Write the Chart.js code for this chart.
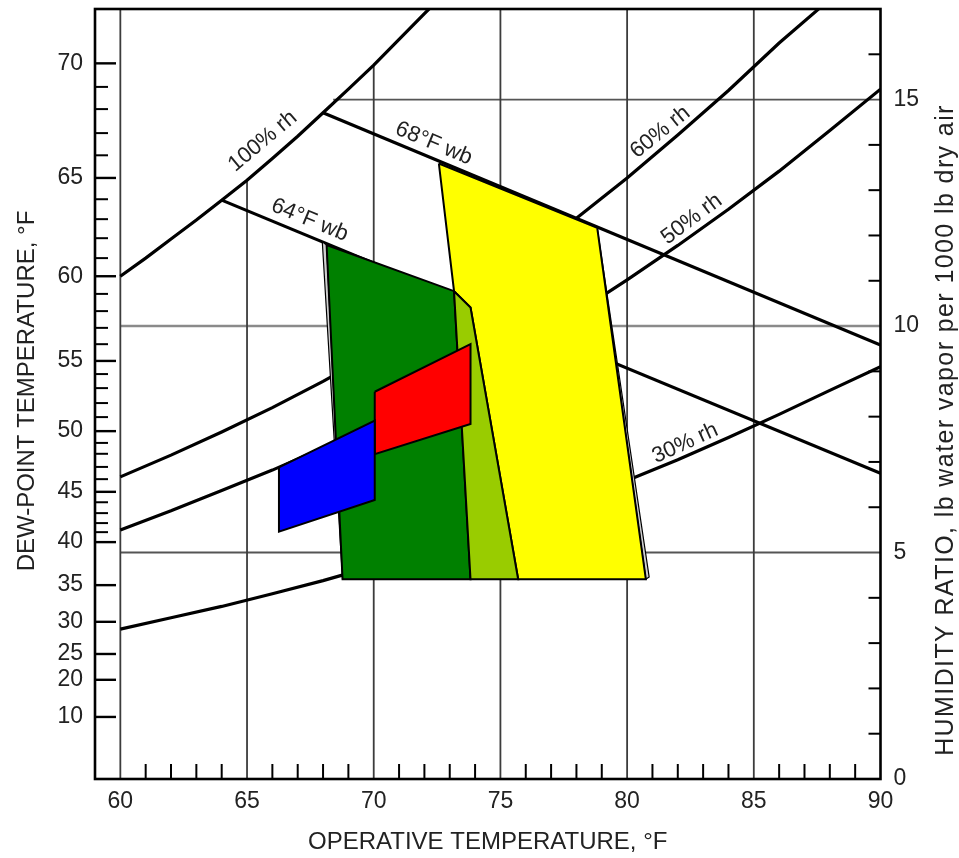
<!DOCTYPE html>
<html><head><meta charset="utf-8">
<script src="https://cdn.jsdelivr.net/npm/chart.js@4.4.0/dist/chart.umd.min.js"></script>
<style>
html,body{margin:0;padding:0;background:#fff;}
#wrap{position:relative;width:959px;height:858px;}
</style></head><body>
<div id="wrap"><canvas id="c"></canvas></div>
<script>
// ---------------- data ----------------
const xTickValues = [60, 65, 70, 75, 80, 85, 90];
const xMinorTicks = [61,62,63,64,66,67,68,69,71,72,73,74,76,77,78,79,81,82,83,84,86,87,88,89];
const humidityTicks = [0, 5, 10, 15];
const humidityMinorTicks = [1,2,3,4,6,7,8,9,11,12,13,14,16];
const dewPointLabels = [70, 65, 60, 55, 50, 45, 40, 35, 30, 25, 20, 10];
const dewPointW = [15.80, 13.27, 11.10, 9.23, 7.68, 6.34, 5.23, 4.28, 3.47, 2.76, 2.19, 1.37];
const dewPointMinorW = [15.28,14.79,14.26,13.77,12.80,12.36,11.94,11.50,10.71,10.33,9.96,9.60,
                        8.94,8.63,8.30,7.99,7.42,7.18,6.89,6.62,6.11,5.87,5.65,5.45];

// relative humidity curves (operative temperature, humidity ratio)
const rh100T = [60, 61, 62, 63, 64, 65, 66, 67, 68, 69, 70, 71, 72, 72.2];
const rh100W = [11.10, 11.50, 11.92, 12.34, 12.78, 13.22, 13.70, 14.19, 14.71, 15.23, 15.76, 16.33, 16.90, 17.01];
const rh60T = [60, 62, 64, 66, 68, 70, 72, 74, 76, 78, 80, 82, 84, 86, 87.6];
const rh60W = [6.67, 7.15, 7.66, 8.20, 8.78, 9.40, 10.07, 10.78, 11.55, 12.38, 13.27, 14.22, 15.20, 16.25, 17.02];
const rh50T = [60, 62, 64, 66, 68, 70, 72, 74, 76, 78, 80, 82, 84, 86, 88, 90];
const rh50W = [5.50, 5.92, 6.37, 6.82, 7.31, 7.84, 8.40, 8.99, 9.62, 10.29, 11.02, 11.78, 12.58, 13.42, 14.32, 15.23];
const rh30T = [60, 62, 64, 66, 68, 70, 72, 74, 76, 78, 80, 82, 84, 86, 88, 90];
const rh30W = [3.31, 3.56, 3.81, 4.09, 4.38, 4.70, 5.03, 5.38, 5.76, 6.16, 6.59, 7.05, 7.54, 8.05, 8.58, 9.10];
// wet-bulb lines
const wb64T = [64, 90];
const wb64W = [12.78, 6.75];
const wb68T = [68, 90];
const wb68W = [14.71, 9.58];

// grid lines (clipped at the saturation curve)
const gridVT = [60, 65, 70, 75, 80, 85];
const gridVTop = [17, 13.22, 15.76, 17, 17, 17];
const gridHW = [5, 10, 15];
const gridHStart = [60, 60, 68.4];

// comfort zones (polygons)
const greenT = [68.14, 73.17, 73.82, 68.77];
const greenW = [11.79, 10.77, 4.41, 4.41];
const lightGreenT = [73.17, 73.82, 75.70, 73.82];
const lightGreenW = [10.77, 10.41, 4.41, 4.41];
const yellowT = [72.57, 78.82, 80.74, 75.70, 73.82, 73.17];
const yellowW = [13.59, 12.17, 4.41, 4.41, 10.41, 10.77];
const redT = [70.04, 73.82, 73.82, 70.04];
const redW = [8.55, 9.60, 7.84, 7.17];
const blueT = [66.26, 70.04, 70.04, 66.26];
const blueW = [6.88, 7.91, 6.16, 5.46];
const greenSliverT = [67.97, 68.14, 68.77];
const greenSliverW = [11.86, 11.79, 4.41];
const yellowSliverT = [78.82, 80.87, 80.74];
const yellowSliverW = [12.17, 4.46, 4.41];

// in-plot labels
const curveLabels = ['100% rh', '64°F wb', '68°F wb', '60% rh', '50% rh', '30% rh'];
const curveLabelT = [65.62, 67.47, 72.37, 81.31, 82.55, 82.29];
const curveLabelW = [14.08, 12.34, 14.03, 14.28, 12.36, 7.41];
const curveLabelAngle = [-40, 22.5, 22.7, -39, -37, -24.4];

const xTitle = 'OPERATIVE TEMPERATURE, °F';
const leftTitle = 'DEW-POINT TEMPERATURE, °F';
const rightTitle = 'HUMIDITY RATIO, lb water vapor per 1000 lb dry air';

// ---------------- helpers ----------------
const FONT = "'Liberation Sans', Arial, Helvetica, sans-serif";
const TXT = '#222';
const pts = (T, W) => T.map((t, i) => ({x: t, y: W[i]}));
const closed = (T, W) => { const p = pts(T, W); p.push(p[0]); return p; };

const datasets = [];
gridVT.forEach((t, i) => datasets.push({
  data: pts([t, t], [0, gridVTop[i]]), borderColor: '#3c3c3c', borderWidth: 1.8, order: 20
}));
gridHW.forEach((w, i) => datasets.push({
  data: pts([gridHStart[i], 90], [w, w]),
  borderColor: w === 10 ? '#8a8a8a' : '#555', borderWidth: w === 10 ? 2.6 : 1.9, order: 20
}));
[[rh100T, rh100W], [rh60T, rh60W], [rh50T, rh50W], [rh30T, rh30W], [wb64T, wb64W], [wb68T, wb68W]]
  .forEach(([T, W]) => datasets.push({data: pts(T, W), borderColor: '#000', borderWidth: 3.2, order: 10}));
datasets.push({data: closed(greenSliverT, greenSliverW), borderColor: '#000', borderWidth: 1.2,
  backgroundColor: '#d0d0d0', fill: 'shape', order: 7});
datasets.push({data: closed(yellowSliverT, yellowSliverW), borderColor: '#000', borderWidth: 1.2,
  backgroundColor: '#d0d0d0', fill: 'shape', order: 7});
const zones = [
  [greenT, greenW, '#008000', 6],
  [yellowT, yellowW, '#FFFF00', 5],
  [lightGreenT, lightGreenW, '#99CC00', 4],
  [redT, redW, '#FF0000', 3],
  [blueT, blueW, '#0000FF', 2]
];
zones.forEach(([T, W, c, o]) => datasets.push({
  data: closed(T, W), borderColor: '#000', borderWidth: 2, backgroundColor: c, fill: 'shape', order: o
}));
datasets.forEach(d => { d.pointRadius = 0; d.pointHoverRadius = 0; d.tension = 0; d.borderJoinStyle = 'miter'; });

function drawTitle(ctx, text, x, y, rot, size, spacing) {
  ctx.save();
  ctx.translate(x, y);
  ctx.rotate(rot);
  ctx.font = size + 'px ' + FONT;
  if ('letterSpacing' in ctx) ctx.letterSpacing = spacing + 'px';
  ctx.textAlign = 'center';
  ctx.textBaseline = 'middle';
  ctx.fillText(text, 0, 0);
  ctx.restore();
}

const overlay = {
  id: 'overlay',
  afterDatasetsDraw(chart) {
    const {ctx, chartArea: a, scales} = chart;
    const sx = scales.x, sy = scales.y, sd = scales.yDew;
    const seg = (x1, y1, x2, y2) => { ctx.beginPath(); ctx.moveTo(x1, y1); ctx.lineTo(x2, y2); ctx.stroke(); };
    ctx.save();
    ctx.strokeStyle = '#000';
    ctx.lineWidth = 2;
    xMinorTicks.forEach(t => { const p = sx.getPixelForValue(t); seg(p, a.bottom, p, a.bottom - 15); });
    humidityMinorTicks.forEach(w => { const p = sy.getPixelForValue(w); seg(a.right, p, a.right - 12, p); });
    ctx.lineWidth = 2.4;
    dewPointW.forEach(w => { const p = sd.getPixelForValue(w); seg(a.left, p, a.left + 21, p); });
    ctx.lineWidth = 2;
    dewPointMinorW.forEach(w => { const p = sd.getPixelForValue(w); seg(a.left, p, a.left + 13, p); });
    ctx.lineWidth = 2.6;
    ctx.strokeRect(a.left, a.top, a.right - a.left, a.bottom - a.top);
    // curve labels
    ctx.fillStyle = TXT;
    ctx.font = '22px ' + FONT;
    ctx.textAlign = 'center';
    ctx.textBaseline = 'middle';
    curveLabels.forEach((s, i) => {
      ctx.save();
      ctx.translate(sx.getPixelForValue(curveLabelT[i]), sy.getPixelForValue(curveLabelW[i]));
      ctx.rotate(curveLabelAngle[i] * Math.PI / 180);
      ctx.fillText(s, 0, 0);
      ctx.restore();
    });
    // axis titles
    const cy = (a.top + a.bottom) / 2;
    drawTitle(ctx, xTitle, (a.left + a.right) / 2, a.bottom + 63, 0, 24, 0);
    drawTitle(ctx, leftTitle, 27, cy - 3, -Math.PI / 2, 24, 0);
    drawTitle(ctx, rightTitle, 946, cy + 36, -Math.PI / 2, 25, 1.4);
    ctx.restore();
  }
};

const noPad = s => { s.paddingTop = 0; s.paddingBottom = 0; s.paddingLeft = 0; s.paddingRight = 0; };

Chart.defaults.font.family = FONT;
new Chart(document.getElementById('c'), {
  type: 'line',
  data: {datasets},
  plugins: [overlay],
  options: {
    responsive: true, maintainAspectRatio: false, animation: false, devicePixelRatio: 1,
    layout: {padding: {top: 9, left: 0, right: 0, bottom: 0}},
    plugins: {legend: {display: false}, tooltip: {enabled: false}},
    events: [],
    scales: {
      x: {
        type: 'linear', position: 'bottom', min: 59, max: 90,
        afterBuildTicks: s => { s.ticks = xTickValues.map(v => ({value: v})); },
        ticks: {autoSkip: false, maxRotation: 0, padding: 9, color: TXT, font: {size: 23}},
        grid: {display: true, drawOnChartArea: false, drawTicks: false},
        border: {display: false},
        afterFit: s => { s.height = 79; noPad(s); }
      },
      y: {
        type: 'linear', position: 'right', min: 0, max: 17,
        afterBuildTicks: s => { s.ticks = humidityTicks.map(v => ({value: v})); },
        ticks: {autoSkip: false, padding: 13, color: TXT, font: {size: 23}},
        grid: {display: true, drawOnChartArea: false, drawTicks: false},
        border: {display: false},
        afterFit: s => { s.width = 78.5; noPad(s); }
      },
      yDew: {
        type: 'linear', position: 'left', min: 0, max: 17,
        afterBuildTicks: s => { s.ticks = dewPointW.map(v => ({value: v})); },
        ticks: {autoSkip: false, padding: 12, color: TXT, font: {size: 23},
          callback: (v, i) => String(dewPointLabels[i])},
        grid: {display: true, drawOnChartArea: false, drawTicks: false},
        border: {display: false},
        afterFit: s => { s.width = 95; noPad(s); }
      }
    }
  }
});
</script>
</body></html>
